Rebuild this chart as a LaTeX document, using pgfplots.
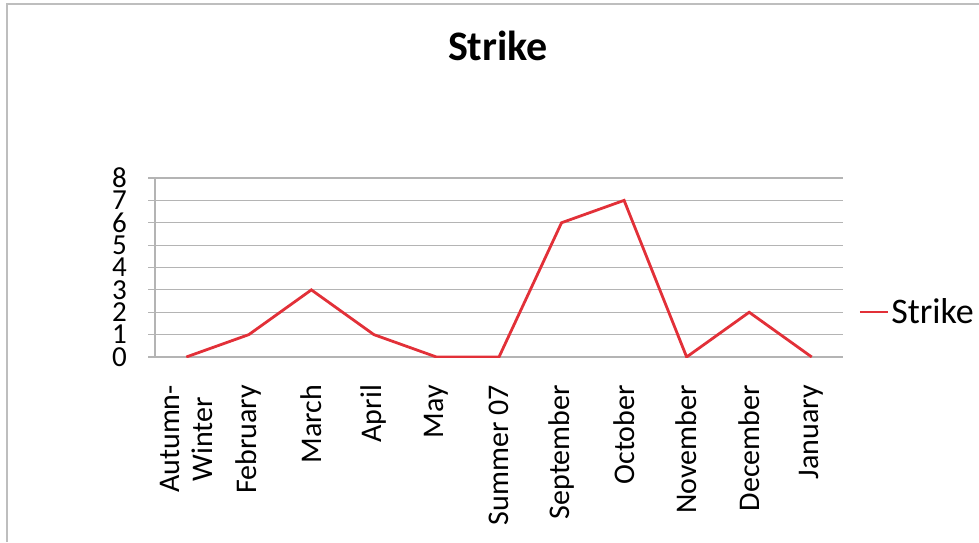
\documentclass[border=0pt]{standalone}
\usepackage{pgfplots}
\pgfplotsset{compat=1.18}
\usepackage{fontspec}
\setmainfont{Carlito}
\definecolor{strikered}{RGB}{226,48,56}
\definecolor{gridgray}{RGB}{180,180,180}
\definecolor{framegray}{RGB}{190,190,190}
\begin{document}
\begin{tikzpicture}
\path[use as bounding box] (0,0) rectangle (489.5pt,271pt);
\draw[framegray, line width=1pt] (3.5pt,0pt) -- (3.5pt,268.8pt) -- (489.5pt,268.8pt);
\node[font=\fontsize{21}{24}\selectfont\bfseries] at (249pt,248pt) {Strike};
\begin{axis}[
  at={(77.5pt,92.5pt)}, anchor=south west,
  scale only axis, width=344pt, height=89.5pt,
  xmin=-0.5, xmax=10.5, ymin=0, ymax=8,
  ytick={0,...,8},
  ymajorgrids, grid style={gridgray, line width=0.6pt},
  xtick={0,...,10},
  xticklabels={{Autumn-\\Winter},February,March,April,May,Summer 07,September,October,November,December,January},
  major x tick style={draw=none},
  extra x ticks={-0.5,0.5,...,10.5},
  extra x tick labels={},
  extra x tick style={grid=none, major tick length=3.5pt, tick style={gridgray, line width=0.6pt}},
  axis x line*=bottom, axis y line*=left,
  x axis line style={-, gridgray, line width=0.6pt},
  y axis line style={-, gridgray, line width=0.6pt},
  tick align=outside,
  major tick length=3.5pt,
  tick style={gridgray, line width=0.6pt},
  /pgf/number format/assume math mode=true,
  yticklabel style={font=\fontsize{14.5}{14.5}\selectfont, xshift=-7pt},
  xticklabel shift=7pt,
  xticklabel style={rotate=90, anchor=east, align=center, font=\fontsize{15}{16.5}\selectfont},
  legend style={at={(1.022,0.251)}, anchor=west, draw=none, fill=none, font=\fontsize{18}{18}\selectfont, inner sep=0pt, nodes={inner xsep=1pt}},
  legend image code/.code={\draw[#1] (0pt,0pt) -- (14pt,0pt);},
  legend cell align=left,
]
\addplot[strikered, line width=1.4pt] coordinates {
  (0,0) (1,1) (2,3) (3,1) (4,0) (5,0) (6,6) (7,7) (8,0) (9,2) (10,0)
};
\addlegendentry{Strike}
\end{axis}
\end{tikzpicture}
\end{document}
